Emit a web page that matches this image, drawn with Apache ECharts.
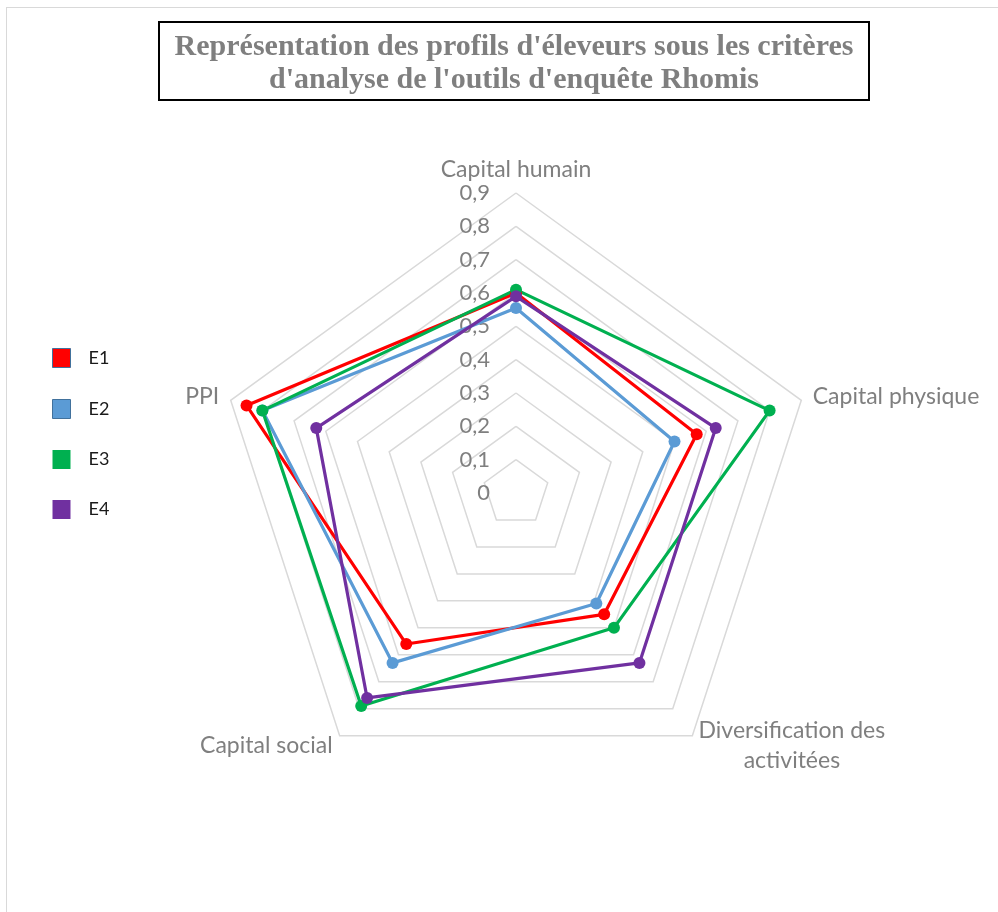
<!DOCTYPE html>
<html>
<head>
<meta charset="utf-8">
<script src="https://cdn.jsdelivr.net/npm/echarts@6/dist/echarts.min.js"></script>
<style>
html,body{margin:0;padding:0;background:#fff;}
#frame{position:absolute;left:6px;top:7px;width:1000px;height:920px;border-left:1px solid #d9d9d9;border-top:1px solid #d9d9d9;}
#chart{position:absolute;left:0;top:0;width:998px;height:912px;}
</style>
</head>
<body>
<div id="frame"></div>
<div id="chart"></div>
<script>
const titleLines = ["Représentation des profils d'éleveurs sous les critères", "d'analyse de l'outils d'enquête Rhomis"];
// clockwise order as in the source chart
const indicators = ["Capital humain", "Capital physique", "Diversification des\nactivitées", "Capital social", "PPI"];
const seriesNames = ["E1", "E2", "E3", "E4"];
const seriesColors = ["#ff0000", "#5b9bd5", "#00b050", "#7030a0"];
const E1 = [0.60, 0.57, 0.45, 0.56, 0.85];
const E2 = [0.555, 0.50, 0.41, 0.63, 0.80];
const E3 = [0.61, 0.80, 0.50, 0.79, 0.80];
const E4 = [0.59, 0.63, 0.63, 0.76, 0.63];
const seriesValues = [E1, E2, E3, E4];
const axisMax = 0.9;
const axisSplits = 9;

// ECharts radar runs counter-clockwise; reorder so the drawing runs clockwise
const order = [0, 4, 3, 2, 1];

const FONT = 'Lato';
const GRAY = '#7f7f7f';
const chart = echarts.init(document.getElementById('chart'));
chart.setOption({
  animation: false,
  backgroundColor: 'transparent',
  title: {
    text: titleLines.map(s => '{t|' + s + '}').join('\n'),
    left: 159, top: 22,
    padding: [9, 9, 3, 9],
    borderColor: '#000', borderWidth: 2,
    textStyle: {
      fontFamily: 'Liberation Serif', fontWeight: 'bold', fontSize: 30, color: GRAY, lineHeight: 33,
      rich: { t: { width: 692, align: 'center', fontFamily: 'Liberation Serif', fontWeight: 'bold', fontSize: 30, color: GRAY, lineHeight: 33 } }
    }
  },
  legend: {
    orient: 'vertical', left: 47, top: 343,
    itemWidth: 18, itemHeight: 19, itemGap: 31,
    icon: 'rect',
    textStyle: { fontFamily: FONT, fontSize: 18, color: '#1a1a1a', padding: [0, 0, 0, 13] },
    data: seriesNames.map((n, i) => ({
      name: n,
      itemStyle: i < 2 ? { borderColor: '#41719c', borderWidth: 1 } : { borderWidth: 0 }
    }))
  },
  radar: {
    center: [516, 493],
    radius: 300,
    shape: 'polygon',
    startAngle: 90,
    splitNumber: axisSplits,
    axisLine: { show: false },
    axisTick: { show: false },
    splitArea: { show: false },
    splitLine: { lineStyle: { color: '#d9d9d9', width: 1.5 } },
    axisLabel: {
      show: true, fontFamily: FONT, fontSize: 22, color: GRAY, margin: 26,
      formatter: v => String(Math.round(v * 10) / 10).replace('.', ',')
    },
    axisName: {
      fontFamily: FONT, fontSize: 23, color: GRAY,
      formatter: v => v.indexOf('\n') >= 0 ? v.split('\n').map(s => '{c|' + s + '}').join('\n') : v,
      rich: { c: { width: 185, align: 'center', fontFamily: FONT, fontSize: 23, color: GRAY, lineHeight: 30 } }
    },
    axisNameGap: 12,
    indicator: order.map((k, i) => {
      const o = { name: indicators[k], min: 0, max: axisMax };
      if (i !== 0) o.axisLabel = { show: false };
      return o;
    })
  },
  series: [{
    type: 'radar',
    symbol: 'circle',
    symbolSize: 12,
    data: seriesNames.map((n, i) => ({
      name: n,
      value: order.map(k => seriesValues[i][k]),
      itemStyle: { color: seriesColors[i] },
      lineStyle: { color: seriesColors[i], width: 3.2 }
    }))
  }]
});
</script>
</body>
</html>
